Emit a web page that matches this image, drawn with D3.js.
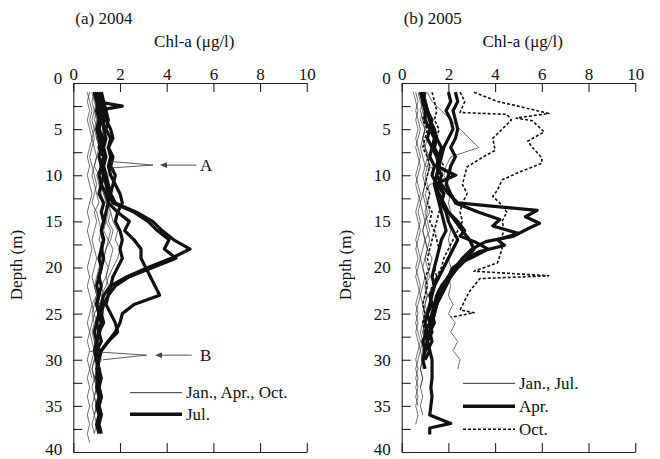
<!DOCTYPE html>
<html>
<head>
<meta charset="utf-8">
<script src="https://cdn.jsdelivr.net/npm/d3@7/dist/d3.min.js"></script>
<style>
body { margin: 0; background: #fff; }
svg text { font-family: "Liberation Serif", "Times New Roman", serif; fill: #111; }
</style>
</head>
<body>
<svg id="chart" width="660" height="459"></svg>
<script>
// chl-a profiles, one value per metre starting at 1 m; [depth, chl] pairs where the step is uneven

const xTicks = [0, 2, 4, 6, 8, 10];
const depthTicks = [0, 2.5, 5, 7.5, 10, 12.5, 15, 17.5, 20, 22.5, 25, 27.5, 30, 32.5, 35, 37.5, 40];
const depthLabels = [0, 5, 10, 15, 20, 25, 30, 35, 40];

// (a) 2004 - Jan., Apr., Oct.
const thin2004 = [
  [0.7,0.6,0.7,0.6,0.7,0.8,0.7,0.6,0.7,0.6,0.7,0.8,0.7,0.6,0.7,0.6,0.7,0.8,0.7,0.6,0.7,0.6,0.7,0.8,0.7,0.6,0.7,0.6,0.7,0.6,0.7,0.6,0.7,0.6,0.7,0.6,0.7,0.6,0.7],
  [0.9,0.8,0.9,1.0,0.9,0.8,0.9,1.0,0.9,0.8,0.9,1.0,1.1,0.9,1.0,0.9,0.8,0.9,1.0,0.9,0.8,0.9,1.0,0.9,0.8,0.9,0.8,0.9,1.0,0.9,0.8,0.9,0.8,0.9,1.0,0.9,0.8,0.9],
  [1.0,1.1,1.0,1.2,1.1,1.0,1.2,1.1,1.3,1.2,1.1,1.3,1.4,1.6,1.7,1.9,1.8,2.0,1.9,1.7,1.5,1.4,1.2,1.3,1.1,1.2,1.0,1.1,1.0,0.9,1.0,0.9,1.0,0.9,1.0],
  [0.8,0.9,1.0,0.9,1.1,1.0,1.2,1.1,1.2,1.0,1.1,1.2,1.3,1.2,1.4,1.3,1.5,1.4,1.3,1.2,1.1,1.2,1.0,1.1,0.9,1.0,1.1,0.9,1.0,0.9,0.8,0.9,1.0,0.9,0.8,0.9],
  [0.6,0.7,0.8,0.7,0.8,0.9,0.8,0.7,0.8,0.9,1.0,0.9,0.8,1.0,1.1,1.2,1.1,1.3,1.2,1.1,1.0,0.9,1.0,0.8,0.9,0.8,0.7,0.8,0.9,0.8,0.7,0.8],
  [1.1,1.2,1.3,1.2,1.4,1.3,1.2,1.4,1.3,1.5,1.4,1.3,1.5,1.6,1.5,1.7,1.6,1.4,1.3,1.5,1.4,1.2,1.3,1.1,1.2,1.0,1.1,1.0,0.9,1.0],
  [0.9,1.0,0.9,0.8,0.9,1.0,1.1,1.0,0.9,1.1,1.2,1.1,1.3,1.5,1.4,1.6,1.5,1.7,1.6,1.5,1.4,1.5,1.3,1.2,1.3,1.1,1.2,1.0,1.1,1.2,1.0,0.9,1.0,1.1,1.0,0.9,1.0,0.9]
];

// (a) 2004 - Jul.
const thick2004 = [
  [1.0,1.1,1.2,1.3,1.3,1.4,1.3,1.4,1.3,1.4,1.5,1.6,1.8,2.7,3.4,3.8,4.3,5.0,4.2,3.2,2.3,1.6,1.3,1.2,1.1,1.2,1.1,1.0,1.0,1.1],
  [0.9,1.0,1.1,1.2,1.1,1.3,1.2,1.3,1.2,1.3,1.4,1.5,1.7,2.6,3.2,3.6,4.1,3.9,4.4,3.4,2.4,1.8,1.5,1.3,1.2,1.3,1.1,1.2,1.0],
  [1.0,1.1,1.0,1.2,1.1,1.2,1.1,1.3,1.2,1.3,1.2,1.4,1.5,1.9,2.4,2.2,2.6,2.9,2.9,3.1,3.3,3.5,3.7,2.6,2.1,2.0,1.8,1.5,1.2,1.1,1.0,1.1,1.0,1.1,1.0,1.1,1.0,1.1],
  [1.1,1.2,1.3,1.4,1.6,1.7,1.5,1.6,1.5,1.6,1.8,2.0,2.1,1.9,1.8,2.0,2.1,2.0,2.1,1.9,1.7,1.6,1.5,1.4,1.6,1.8,1.9,1.5,1.2,1.0,1.1,1.0],
  [[1,0.9],[2,1.0],[2.5,2.1],[3,1.0],[4,1.1],[5,1.0],[6,1.1],[7,1.2],[8,1.1],[9,1.2],[10,1.1],[11,1.2],[12,1.1],[13,1.3],[14,1.2],[15,1.3],[16,1.2],[17,1.3],[18,1.2],[19,1.3],[20,1.2],[21,1.1],[22,1.2],[23,1.1],[24,1.0],[25,1.1],[26,1.0],[27,1.1],[28,1.0],[29,1.1],[30,1.0],[31,1.1],[32,1.2],[33,1.1],[34,1.2],[35,1.1],[36,1.2],[37,1.1],[38,1.2]],
  [1.2,1.3,1.4,1.5,1.4,1.6,1.5,1.7,1.6,1.8,1.7,1.6,1.5,1.4,1.3,1.2,1.3,1.2,1.1,1.2,1.1,1.0,1.1,1.0,1.1,1.0,0.9,1.0,0.9,1.0,1.1,1.0,1.1,1.2,1.1,1.2]
];

// (b) 2005 - Jan., Jul.
const thin2005 = [
  [0.6,0.7,0.6,0.7,0.8,0.7,0.6,0.7,0.8,0.7,0.6,0.7,0.8,0.7,0.8,0.7,0.6,0.7,0.8,0.7,0.6,0.7,0.8,0.7,0.6,0.7,0.6,0.7,0.8,0.7,0.6,0.7,0.6,0.7,0.6,0.7,0.6],
  [0.8,0.9,0.8,0.9,1.0,0.9,0.8,0.9,1.0,0.9,1.0,0.9,0.8,0.9,1.0,0.9,1.0,0.9,0.8,0.9,1.0,0.9,0.8,0.9,1.0,0.9,0.8,0.9,0.8,0.9,0.8,0.9,0.8,0.9,0.8,0.9],
  [0.9,1.0,1.1,1.0,1.2,1.1,1.0,1.2,1.1,1.0,1.1,1.2,1.1,1.0,1.1,1.2,1.0,1.1,1.0,1.1,1.2,1.0,1.1,1.0,1.1,1.0,0.9,1.0,0.9,1.0,0.9],
  [0.7,0.8,0.9,0.8,1.0,0.9,1.0,1.1,1.0,2.4,1.2,1.0,1.1,1.2,1.0,1.1,1.2,1.1,1.3,1.2,1.1,1.0,1.1,1.0,0.9,1.0,0.9,1.0,0.9,1.0],
  [0.5,0.6,0.7,0.6,0.7,0.6,0.7,0.8,0.7,0.6,0.7,0.8,0.7,0.6,0.7,0.8,0.7,0.6,0.7,0.6,0.7,0.8,0.7,0.6,0.7,0.6,0.7,0.8,0.7,0.6,0.7,0.6,0.7,0.6,0.7],
  [1.1,1.3,1.7,2.1,2.5,2.9,3.3,2.1,1.9,1.8,2.0,2.1,2.0,2.1,2.0,2.1,2.0,2.1,2.0,2.1,2.0,2.1,2.0,2.2,2.0,2.3,2.1,2.4,2.2,2.5,2.4],
  [1.0,0.9,1.0,1.1,1.0,0.9,1.0,1.1,1.2,1.1,1.0,0.9,1.0,1.1,1.0,0.9,1.0,1.1,1.0,0.9,1.0,1.1,1.0,0.9,1.0,0.9,1.0,0.9,1.0,0.9,0.8,0.9,0.8]
];

// (b) 2005 - Apr.
const thick2005 = [
  [[1,2.0],[2,2.1],[3,1.9],[4,2.1],[5,2.2],[6,2.0],[7,1.8],[8,1.7],[9,1.6],[10,1.5],[11,1.7],[12,2.0],[13,2.4],[13.8,5.8],[14.5,5.3],[15.2,5.9],[15.8,5.4],[16.6,4.8],[17.2,3.6],[18,3.0],[19,2.6],[20,2.3],[21,2.0],[22,1.7],[23,1.5],[24,1.4],[25,1.3],[26,1.2],[27,1.3],[28,1.1],[29,1.2],[30,1.0]],
  [[1,2.3],[2,2.4],[3,2.2],[4,2.3],[5,2.4],[6,2.3],[7,2.1],[8,2.3],[9,2.1],[10,2.0],[11,1.9],[12,2.1],[13,2.3],[14,3.3],[14.8,4.2],[15.5,3.9],[16.3,5.0],[17,4.1],[17.6,4.4],[18.3,3.3],[19,2.8],[20,2.4],[21,2.0],[22,1.8],[23,1.6],[24,1.5],[25,1.3],[26,1.4],[27,1.2],[28,1.3],[29,1.1]],
  [[1,0.9],[2,1.0],[3,1.1],[4,1.2],[5,1.3],[6,1.5],[7,1.4],[8,1.6],[9,1.5],[10,1.7],[11,1.6],[12,1.8],[13,1.7],[14,2.0],[15,2.4],[16,2.7],[16.6,2.5],[17.3,3.2],[18,3.7],[18.8,3.1],[19.5,2.5],[20,2.2],[21,2.0],[22,1.8],[23,1.6],[24,1.5],[25,1.4],[26,1.3],[27,1.2],[28,1.1],[29,1.2],[30,1.3],[31,1.3],[32,1.3],[33,1.25],[34,1.3],[35,1.25],[36,1.2],[36.9,2.1],[37.4,1.2],[38.1,1.2]],
  [0.8,0.9,1.0,1.0,1.2,1.1,1.3,1.2,1.4,1.3,1.5,1.8,1.7,1.9,2.0,2.2,2.4,2.2,2.0,1.8,1.6,1.4,1.3,1.2,1.1,1.0,1.1,0.9,1.0,0.9],
  [1.0,0.9,1.1,1.2,1.4,1.5,1.7,1.6,1.5,2.3,1.4,1.5,1.6,1.7,1.8,1.9,1.7,1.6,1.5,1.4,1.3,1.4,1.2,1.3,1.1,1.2,1.0,1.1,1.0,0.9,1.0],
  [0.9,1.0,1.1,1.3,1.2,1.4,1.3,1.5,1.6,1.5,1.4,1.6,1.8,2.0,2.3,2.6,2.9,3.1,2.8,2.4,2.1,1.9,1.7,1.5,1.4,1.3,1.2,1.1,1.0]
];

// (b) 2005 - Oct.
const dot2005 = [
  [[1,3.1],[2,4.1],[2.4,4.8],[3.3,6.3],[3.8,4.9],[4.1,5.6],[5.3,6.1],[6.3,5.4],[7,5.6],[8.1,6.0],[8.7,6.0],[9.7,5.0],[10.5,4.3],[11.6,4.1],[12.3,3.9],[13,4.2],[14,4.5],[15,4.3],[16,4.4],[17,4.2],[18,4.3],[19.5,4.1],[20.4,3.1],[20.9,6.3],[21.2,3.35],[22.6,2.9],[24.6,2.5],[24.9,3.1],[25.4,2.1]],
  [[1,2.5],[2,2.7],[3.2,2.5],[3.4,4.5],[4,4.7],[5,4.3],[6,3.9],[7.3,4.0],[8,3.5],[9.1,2.8],[10,2.7],[11,2.6],[12,2.8],[13,2.6],[14,2.5],[15,2.6],[16,2.4],[17,2.2],[18,2.0],[19,1.8],[20,1.7],[21,1.5],[22,1.4],[23,1.3],[24,1.2],[25,1.1]],
  [1.3,1.4,1.5,1.4,1.6,1.5,1.7,1.6,1.8,1.7,1.6,1.5,1.7,1.6,1.5,1.4,1.5,1.6,1.5,1.4,1.5,1.3,1.2,1.3,1.1,1.2,1.0,1.1],
  [0.8,0.9,1.0,0.9,1.1,1.0,0.9,1.1,1.2,1.1,1.0,1.2,1.1,1.3,1.2,1.4,1.3,1.2,1.1,1.2,1.0,1.1,1.0,0.9,1.0,0.9,1.0]
];

// arrows "A" and "B" in panel (a), in data units [chl, depth]
const notes = [
  { label: "A", arms: [[1.57, 8.5], [1.64, 9.2]], tip: [3.41, 8.9], from: 5.28, to: 3.71, textX: 5.43 },
  { label: "B", arms: [[0.72, 29.1], [1.27, 30.0]], tip: [3.14, 29.5], from: 5.07, to: 3.5, textX: 5.43 }
];

const svg = d3.select("#chart");
const plotTop = 83, plotBottom = 452;
const ink = "#111";

// turn a profile into [depth, chl] points
function toPoints(p) {
  return p.map(function(v, i) { return Array.isArray(v) ? v : [i + 1, v]; });
}

function drawPanel(opt) {
  const x = d3.scaleLinear().domain([0, 10]).range([opt.left, opt.left + 233.5]);
  const y = d3.scaleLinear().domain([0, 40]).range([plotTop, plotBottom]);
  const g = svg.append("g");

  const line = d3.line()
    .x(function(d) { return x(d[1]); })
    .y(function(d) { return y(d[0]); });

  // profiles, drawn in series order (thin first)
  opt.series.forEach(function(s) {
    g.append("g")
      .selectAll("path")
      .data(s.data)
      .enter().append("path")
      .attr("d", function(p) { return line(toPoints(p)); })
      .attr("fill", "none")
      .attr("stroke", s.color)
      .attr("stroke-width", s.width)
      .attr("stroke-dasharray", s.dash || null)
      .attr("stroke-linejoin", "round");
  });

  // axes, ticks pointing inwards
  const topAxis = g.append("g")
    .attr("transform", "translate(0," + plotTop + ")")
    .call(d3.axisTop(x).tickValues(xTicks).tickSizeInner(-9).tickSizeOuter(0).tickPadding(3).tickFormat(d3.format("d")));
  const bottomAxis = g.append("g")
    .attr("transform", "translate(0," + plotBottom + ")")
    .call(d3.axisBottom(x).tickValues(xTicks).tickSizeInner(-9).tickSizeOuter(0).tickFormat(""));
  const leftAxis = g.append("g")
    .attr("transform", "translate(" + opt.left + ",0)")
    .call(d3.axisLeft(y).tickValues(depthTicks).tickSizeInner(-9).tickSizeOuter(0).tickPadding(11)
      .tickFormat(function(d) { return depthLabels.indexOf(d) >= 0 ? d : ""; }));
  // end labels nudged inside, as in the original
  leftAxis.selectAll(".tick").filter(function(d) { return d === 0; }).select("text").attr("y", -5);
  leftAxis.selectAll(".tick").filter(function(d) { return d === 40; }).select("text").attr("y", -3);

  [topAxis, bottomAxis, leftAxis].forEach(function(a) {
    a.selectAll("path, line").attr("stroke", "#222").attr("stroke-width", 1.1);
    a.selectAll("text").style("font-size", "17px").attr("fill", ink);
  });

  // titles
  g.append("text").attr("x", opt.left + 2).attr("y", 24).style("font-size", "17px").text(opt.title);
  g.append("text").attr("x", opt.left + 121).attr("y", 47).attr("text-anchor", "middle")
    .style("font-size", "17px").text("Chl-a (\u03bcg/l)");
  g.append("text")
    .attr("transform", "translate(" + (opt.left - 51) + ",265) rotate(-90)")
    .attr("text-anchor", "middle").style("font-size", "17px").text("Depth (m)");

  // legend
  const lg = g.append("g").attr("transform", "translate(" + opt.legend[0] + "," + opt.legend[1] + ")");
  opt.series.forEach(function(s, i) {
    const ly = i * opt.legendGap;
    lg.append("line").attr("x1", 0).attr("x2", 52).attr("y1", ly).attr("y2", ly)
      .attr("stroke", s.color).attr("stroke-width", s.legendWidth || s.width)
      .attr("stroke-dasharray", s.dash || null);
    lg.append("text").attr("x", 56).attr("y", ly).attr("dy", "0.33em")
      .style("font-size", "17px").text(s.name);
  });

  return { x: x, y: y, g: g };
}

const pa = drawPanel({
  left: 73.3, title: "(a) 2004", legend: [130, 392.7], legendGap: 21.5,
  series: [
    { name: "Jan., Apr., Oct.", data: thin2004, color: "#333", width: 0.7, legendWidth: 1 },
    { name: "Jul.", data: thick2004, color: ink, width: 3.2, legendWidth: 3.6 }
  ]
});

const pb = drawPanel({
  left: 401.7, title: "(b) 2005", legend: [463, 383.3], legendGap: 23,
  series: [
    { name: "Jan., Jul.", data: thin2005, color: "#333", width: 0.7, legendWidth: 1 },
    { name: "Apr.", data: thick2005, color: ink, width: 3.2, legendWidth: 3.6 },
    { name: "Oct.", data: dot2005, color: ink, width: 1.6, dash: "3,2" }
  ]
});

// annotations A and B
notes.forEach(function(n) {
  const x = pa.x, y = pa.y, g = pa.g.append("g");
  n.arms.forEach(function(a) {
    g.append("line").attr("x1", x(a[0])).attr("y1", y(a[1])).attr("x2", x(n.tip[0])).attr("y2", y(n.tip[1]))
      .attr("stroke", "#333").attr("stroke-width", 0.8);
  });
  const ay = y(n.tip[1]);
  g.append("line").attr("x1", x(n.from)).attr("x2", x(n.to) + 5).attr("y1", ay).attr("y2", ay)
    .attr("stroke", "#555").attr("stroke-width", 1);
  g.append("path")
    .attr("d", "M" + x(n.to) + "," + ay + "l7,-2.8l0,5.6z")
    .attr("fill", "#444");
  g.append("text").attr("x", x(n.textX)).attr("y", ay).attr("dy", "0.35em")
    .style("font-size", "17px").text(n.label);
});
</script>
</body>
</html>
